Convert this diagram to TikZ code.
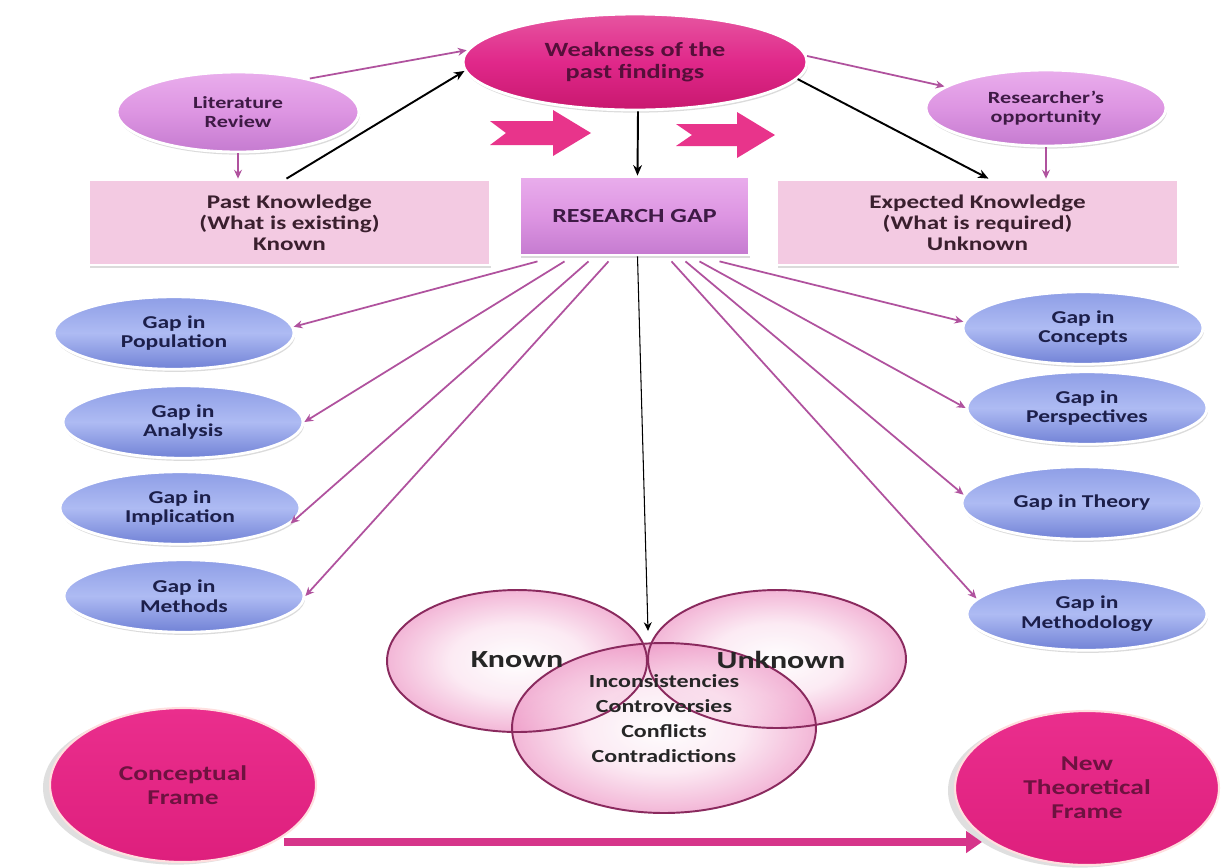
\documentclass[tikz,border=0pt]{standalone}
\usepackage{fontspec}
\setmainfont{Carlito}[FakeStretch=1.3]
\usetikzlibrary{shapes.geometric,arrows.meta,shadows,calc}
\definecolor{pinkline}{HTML}{B0529E}
\definecolor{magtop}{HTML}{E655A0}
\definecolor{magmid}{HTML}{E0288A}
\definecolor{magbot}{HTML}{C8186F}
\definecolor{magtext}{HTML}{560F3A}
\definecolor{orctop}{HTML}{E9ADEC}
\definecolor{orcmid}{HTML}{DD95E2}
\definecolor{orcbot}{HTML}{C57BD0}
\definecolor{orctext}{HTML}{3E1A45}
\definecolor{boxfill}{HTML}{F3CAE2}
\definecolor{boxtext}{HTML}{3A1F2E}
\definecolor{bluetop}{HTML}{8E9EE6}
\definecolor{bluemid}{HTML}{AEBBF3}
\definecolor{bluebot}{HTML}{7182D6}
\definecolor{bluetext}{HTML}{1C1F4A}
\definecolor{vennfill}{HTML}{EE98C6}
\definecolor{vennlight}{HTML}{FBE2EF}
\definecolor{vennline}{HTML}{8A2A5E}
\definecolor{blockpink}{HTML}{E8348B}
\definecolor{frametop}{HTML}{EA2E8D}
\definecolor{framebot}{HTML}{DE1F7D}
\definecolor{frametext}{HTML}{6E1240}
\definecolor{bigline}{HTML}{D6358A}
\pgfdeclareradialshading{vennshade}{\pgfpoint{0bp}{0bp}}{color(0bp)=(white); color(13bp)=(vennlight); color(25bp)=(vennfill); color(50bp)=(vennfill)}
\begin{document}
\begin{tikzpicture}[x=0.02cm,y=-0.02cm,
  shadowed/.style={drop shadow={opacity=0.28,shadow xshift=0.6pt,shadow yshift=-1.5pt}},
  bell/.style={ellipse,draw=white,line width=1.6pt,top color=bluetop,bottom color=bluebot,middle color=bluemid,shadowed,text=bluetext,align=center,inner sep=0pt,minimum width=4.8cm,minimum height=1.45cm,font=\fontsize{10.3}{11.3}\selectfont\bfseries},
  pell/.style={ellipse,draw=white,line width=1.6pt,top color=orctop,bottom color=orcbot,middle color=orcmid,shadowed,text=orctext,align=center,inner sep=0pt,font=\fontsize{9.7}{10.8}\selectfont\bfseries},
  kbox/.style={rectangle,draw=white,line width=1.6pt,fill=boxfill,shadowed,text=boxtext,align=center,inner sep=0pt,minimum width=8.02cm,minimum height=1.7cm,font=\fontsize{11}{12}\selectfont\bfseries},
  pline/.style={draw=pinkline,line width=1pt,-{Stealth[length=5pt,width=4.5pt]}},
  bline/.style={draw=black,line width=1.1pt,-{Stealth[length=6pt,width=5pt]}},
  vtxt/.style={text=black!85,font=\fontsize{10.5}{12}\selectfont\bfseries,inner sep=0pt},
  vbig/.style={text=black!85,font=\fontsize{14}{16}\selectfont\bfseries,inner sep=0pt},
  frameell/.style={ellipse,draw=pink!50!white,line width=1.2pt,top color=frametop,bottom color=framebot,text=frametext,align=center,inner sep=0pt,font=\fontsize{12}{13.6}\selectfont\bfseries,drop shadow={opacity=0.25,shadow xshift=-4pt,shadow yshift=-1.5pt}},
  blockarrow/.style={fill=blockpink,draw=none}
]
\useasboundingbox (0,0) rectangle (1225,867);
\fill[white] (0,0) rectangle (1225,867);

% top level
\node[ellipse,draw=white,line width=1.6pt,top color=magtop,bottom color=magbot,middle color=magmid,shadowed,text=magtext,align=center,inner sep=0pt,minimum width=6.88cm,minimum height=1.92cm,font=\fontsize{11.5}{12.5}\selectfont\bfseries] (weak) at (635,62) {Weakness of the\\past findings};
\node[pell,minimum width=4.84cm,minimum height=1.6cm] (lit) at (238,112) {Literature\\Review};
\node[pell,minimum width=4.8cm,minimum height=1.52cm] (opp) at (1046,108) {Researcher’s\\opportunity};

\node[kbox] (past) at (289.5,222.5) {Past Knowledge\\(What is existing)\\Known};
\node[kbox] (exp) at (977.5,222.5) {Expected Knowledge\\(What is required)\\Unknown};
\node[rectangle,draw=white,line width=1.6pt,top color=orctop,bottom color=orcbot,middle color=orcmid,shadowed,text=orctext,inner sep=0pt,minimum width=4.58cm,minimum height=1.56cm,font=\fontsize{11.4}{12}\selectfont\bfseries] (gap) at (634.5,216) {RESEARCH GAP};

% block arrows
\path[blockarrow] (490,121) -- (553,121) -- (553,110) -- (591,133) -- (553,156) -- (553,145) -- (490,145) -- (506,133) -- cycle;
\path[blockarrow] (676,124) -- (737,124) -- (737,112) -- (775,135) -- (737,158) -- (737,146) -- (676,146) -- (692,135) -- cycle;

% gap ellipses
\node[bell] (pop) at (174,333) {Gap in\\Population};
\node[bell] (ana) at (183,422) {Gap in\\Analysis};
\node[bell] (imp) at (180,508) {Gap in\\Implication};
\node[bell] (met) at (184,596) {Gap in\\Methods};
\node[bell] (con) at (1083,328) {Gap in\\Concepts};
\node[bell] (per) at (1087,408) {Gap in\\Perspectives};
\node[bell] (the) at (1082,503) {Gap in Theory};
\node[bell] (mty) at (1087,614) {Gap in\\Methodology};

% top connectors
\draw[pline] (lit.25) -- (weak.176);
\draw[bline] ($(past.north)+(-3,0)$) -- (weak.183);
\draw[pline] (lit.south) -- (lit.south |- past.north);
\draw[pline] (weak.2) -- (opp.168);
\draw[bline] (weak.-6) -- ($(exp.north)+(11,0)$);
\draw[bline] ($(weak.south)+(3,0)$) -- ($(gap.north)+(3,0)$);
\draw[pline] (opp.south) -- (opp.south |- exp.north);

% fan connectors
\draw[pline] ($(gap.south)+(-97,5)$) -- (pop.3);
\draw[pline] ($(gap.south)+(-70,5)$) -- (ana.0);
\draw[pline] ($(gap.south)+(-46,5)$) -- (imp.-8);
\draw[pline] ($(gap.south)+(-26,5)$) -- (met.0);
\draw[pline] ($(gap.south)+(85,5)$) -- (con.177);
\draw[pline] ($(gap.south)+(65,5)$) -- (per.180);
\draw[pline] ($(gap.south)+(51,5)$) -- (the.176);
\draw[pline] ($(gap.south)+(37,5)$) -- (mty.172);

% Venn
\shade[shading=vennshade,opacity=0.7] (517,661) ellipse [x radius=2.6cm,y radius=1.42cm];
\shade[shading=vennshade,opacity=0.7] (777,659) ellipse [x radius=2.58cm,y radius=1.38cm];
\shade[shading=vennshade,opacity=0.7] (664,728) ellipse [x radius=3.04cm,y radius=1.7cm];
\draw[vennline,line width=1.1pt] (517,661) ellipse [x radius=2.6cm,y radius=1.42cm];
\draw[vennline,line width=1.1pt] (777,659) ellipse [x radius=2.58cm,y radius=1.38cm];
\draw[vennline,line width=1.1pt] (664,728) ellipse [x radius=3.04cm,y radius=1.7cm];
\node[vbig] (tknown) at (517,660) {Known};
\node[vbig] (tunknown) at (781,660) {Unknown};
\node[vtxt] (t1) at (664,681) {Inconsistencies};
\node[vtxt] (t2) at (664,706) {Controversies};
\node[vtxt] (t3) at (664,731) {Conflicts};
\node[vtxt] (t4) at (664,756) {Contradictions};

\coordinate (vtip) at (648,631);
\draw[draw=black,line width=0.6pt,-{Stealth[length=5pt,width=4.5pt]}] ($(gap.south)+(3,0)$) -- (vtip);

% frames
\node[frameell,minimum width=5.32cm,minimum height=3.08cm] (conc) at (183,785) {Conceptual\\Frame};
\node[frameell,minimum width=5.28cm,minimum height=3.08cm] (newf) at (1087,788) {New\\Theoretical\\Frame};
\coordinate (ctail) at (284,842);
\coordinate (chead) at (982,842);
\draw[draw=bigline,line width=4.5pt,-{Triangle[length=9pt,width=12pt]}] (ctail) -- (chead);
\end{tikzpicture}
\end{document}
